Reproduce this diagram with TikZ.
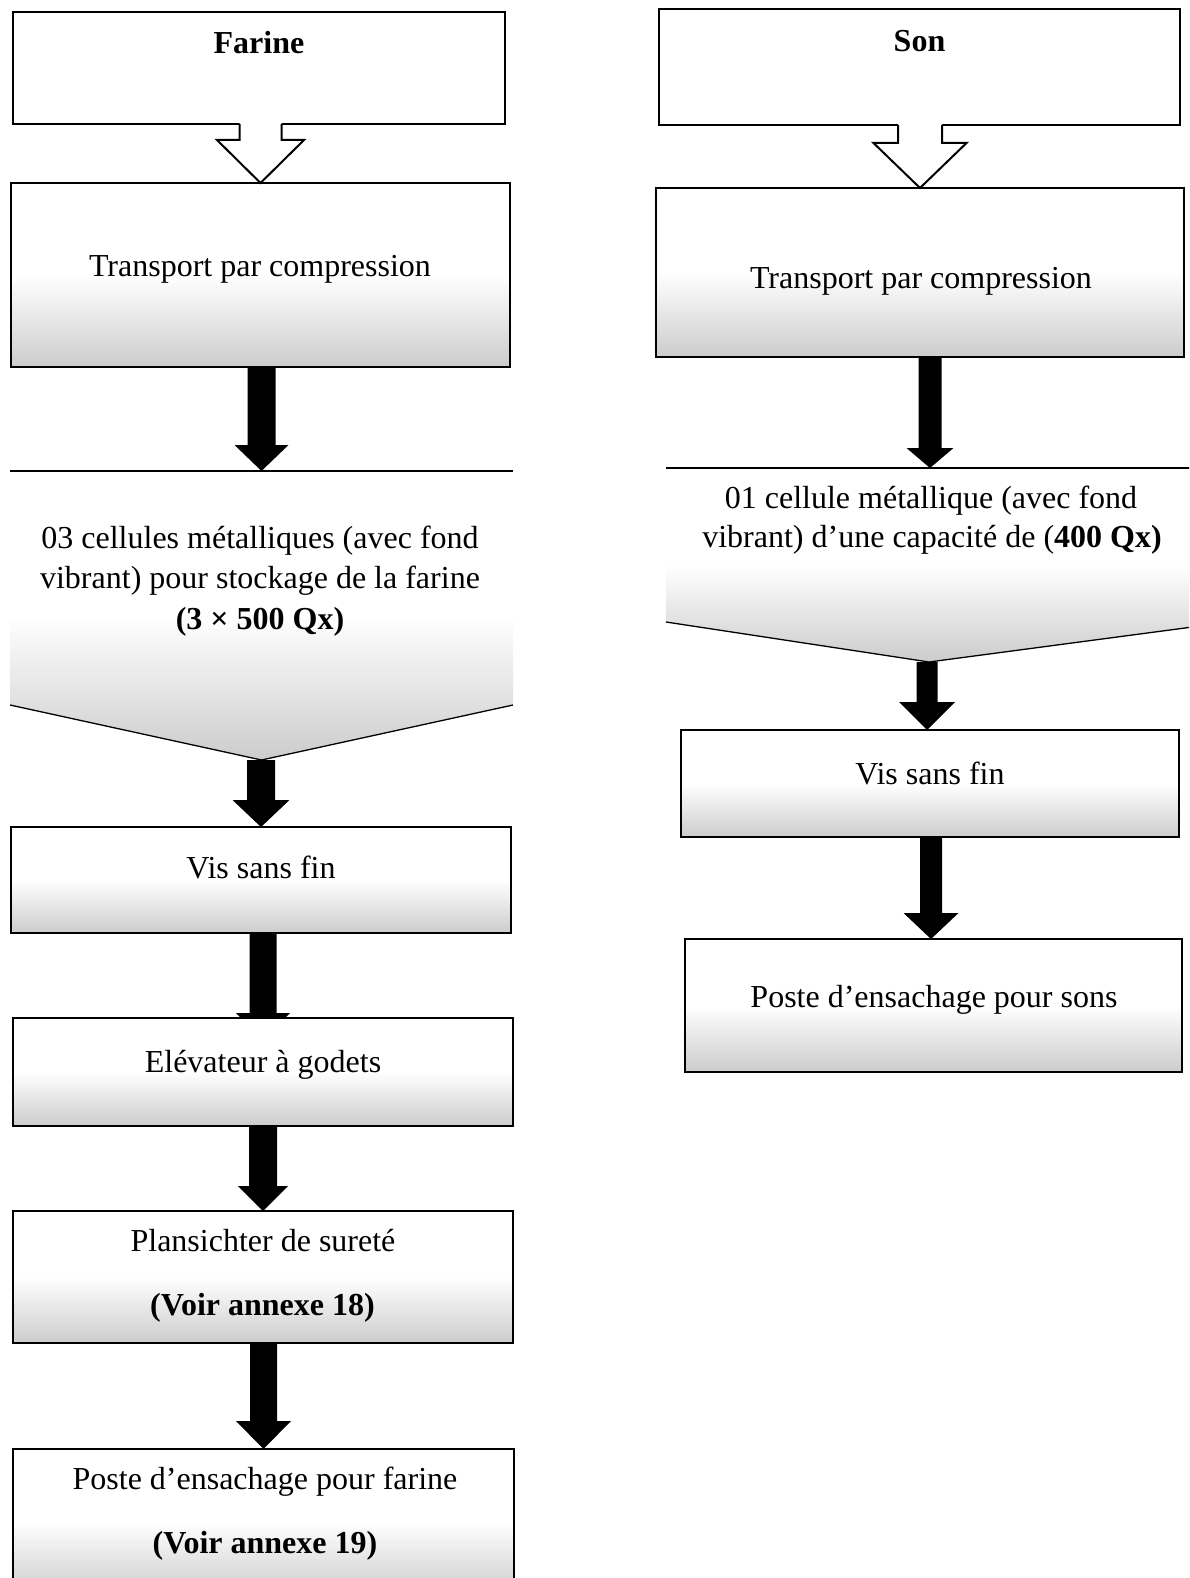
\documentclass[tikz,border=0pt]{standalone}
\usepackage{fontspec}
\setmainfont{Liberation Serif}
\usetikzlibrary{calc}
\pgfdeclarelayer{bg}
\pgfsetlayers{bg,main}

\tikzset{
  stage/.style={draw=black, line width=2pt, rectangle, inner sep=0pt, outer sep=0pt,
    top color=white, bottom color=black!20, middle color=white},
  plain/.style={draw=black, line width=2pt, rectangle, inner sep=0pt, outer sep=0pt, fill=white},
  cellbox/.style={rectangle, inner sep=0pt, outer sep=0pt},
  cellshade/.style={top color=white, bottom color=black!20, middle color=white},
  cellrim/.style={draw=black, line width=1.3pt, line join=miter},
  lbl/.style={anchor=base, inner sep=0pt, font=\fontsize{32}{38}\selectfont},
  flow/.style={fill=black},
  hollowline/.style={draw=black, line width=2pt, line join=miter},
}

% solid block arrow: #1 source anchor (start height), #2 tip, #3 shaft half width,
% #4 head half width, #5 head length
\newcommand\flowarrow[5]{%
  \path[flow] let \p1=(#1), \p2=(#2) in
    (\x2-#3pt,\y1) -- (\x2+#3pt,\y1) -- (\x2+#3pt,\y2+#5pt) -- (\x2+#4pt,\y2+#5pt)
    -- (\x2,\y2) -- (\x2-#4pt,\y2+#5pt) -- (\x2-#3pt,\y2+#5pt) -- cycle;}

% outlined block arrow, open at its top so it merges with the box above
\newcommand\hollowarrow[5]{%
  \path[fill=white] let \p1=(#1), \p2=(#2) in
    (\x2-#3pt,\y1+1.5pt) -- (\x2+#3pt,\y1+1.5pt) -- (\x2+#3pt,\y2+#5pt) -- (\x2+#4pt,\y2+#5pt)
    -- (\x2,\y2) -- (\x2-#4pt,\y2+#5pt) -- (\x2-#3pt,\y2+#5pt) -- cycle;
  \path[hollowline] let \p1=(#1), \p2=(#2) in
    (\x2-#3pt,\y1) -- (\x2-#3pt,\y2+#5pt) -- (\x2-#4pt,\y2+#5pt) -- (\x2,\y2)
    -- (\x2+#4pt,\y2+#5pt) -- (\x2+#3pt,\y2+#5pt) -- (\x2+#3pt,\y1);}

\begin{document}
\begin{tikzpicture}[x=1pt, y=-1pt]
\useasboundingbox (0,0) rectangle (1189,1578);
\clip (0,0) rectangle (1189,1578);

% ---------- Farine line ----------
\node[plain, minimum width=492pt, minimum height=112pt] (farine) at (259,68) {};
\node[stage, minimum width=499pt, minimum height=184pt] (tr1) at (260.5,275) {};
\node[cellbox, minimum width=503pt, minimum height=289pt] (cell1) at (261.5,615.5) {};
\path[cellshade] (cell1.north west) -- (cell1.north east) -- ($(cell1.south east)+(0,-55)$)
  -- (cell1.south) -- ($(cell1.south west)+(0,-55)$) -- cycle;
\draw[cellrim] (cell1.north west) -- (cell1.north east);
\draw[cellrim] ($(cell1.south west)+(0,-55)$) -- (cell1.south) -- ($(cell1.south east)+(0,-55)$);
\node[stage, minimum width=500pt, minimum height=106pt] (vis1) at (261,880) {};
\node[stage, minimum width=500pt, minimum height=108pt] (elev) at (263,1072) {};
\node[stage, minimum width=500pt, minimum height=132pt] (plans) at (263,1277) {};
\node[stage, minimum width=501pt, minimum height=146pt] (poste) at (263.5,1522) {};

% ---------- Son line ----------
\node[plain, minimum width=521pt, minimum height=116pt] (son) at (919.5,67) {};
\node[stage, minimum width=528pt, minimum height=169pt] (tr2) at (920,272.5) {};
\node[cellbox, minimum width=534pt, minimum height=194pt] (cell2) at (933,565) {};
\coordinate (cell2-tip) at ($(cell2.south)+(-4,0)$);
\path[cellshade] (cell2.north west) -- (cell2.north east) -- ($(cell2.south east)+(0,-36)$)
  -- (cell2-tip) -- ($(cell2.south west)+(0,-40)$) -- cycle;
\draw[cellrim] (cell2.north west) -- (cell2.north east);
\draw[cellrim] ($(cell2.south west)+(0,-40)$) -- (cell2-tip) -- ($(cell2.south east)+(0,-36)$);
\node[stage, minimum width=498pt, minimum height=107pt] (vis2) at (930,783.5) {};
\node[stage, minimum width=497pt, minimum height=133pt] (postes) at (933.5,1005.5) {};

% ---------- connectors ----------
\hollowarrow{farine.south}{tr1.north}{21}{43.5}{43}
\hollowarrow{son.south}{tr2.north}{22}{46.5}{45}

\begin{pgfonlayer}{bg}
  \flowarrow{tr1.south}{cell1.north}{14}{27}{26}
  \flowarrow{cell1.south}{vis1.north}{14}{28.5}{27}
  \flowarrow{vis1.south}{$(elev.north)+(0,22)$}{13.5}{27}{27}
  \flowarrow{elev.south}{plans.north}{14}{25}{25}
  \flowarrow{plans.south}{poste.north}{13.5}{27.5}{28}
  \flowarrow{tr2.south}{$(cell2.north)+(-3,0)$}{11.5}{23.5}{20}
  \flowarrow{cell2-tip}{$(vis2.north)+(-3,0)$}{10.5}{28}{28}
  \flowarrow{vis2.south}{$(postes.north)+(-2.5,0)$}{11}{27.5}{26}
\end{pgfonlayer}

% ---------- texts ----------
\node[lbl] (farine-t) at (259,54) {\textbf{Farine}};
\node[lbl] (tr1-t) at (260,277) {Transport par compression};
\node[lbl] (cell1-a) at (260,548) {03 cellules métalliques (avec fond};
\node[lbl] (cell1-b) at (260,588) {vibrant) pour stockage de la farine};
\node[lbl] (cell1-c) at (260,629) {\textbf{(3 × 500 Qx)}};
\node[lbl] (vis1-t) at (261,878) {Vis sans fin};
\node[lbl] (elev-t) at (263,1072) {Elévateur à godets};
\node[lbl] (plans-a) at (263,1251) {Plansichter de sureté};
\node[lbl] (plans-b) at (262.5,1315) {\textbf{(Voir annexe 18)}};
\node[lbl] (poste-a) at (265,1489) {Poste d’ensachage pour farine};
\node[lbl] (poste-b) at (265,1553) {\textbf{(Voir annexe 19)}};

\node[lbl] (son-t) at (919.5,52) {\textbf{Son}};
\node[lbl] (tr2-t) at (921,289) {Transport par compression};
\node[lbl] (cell2-a) at (931,508) {01 cellule métallique (avec fond};
\node[lbl] (cell2-b) at (932,547) {vibrant) d’une capacité de (\textbf{400 Qx)}};
\node[lbl] (vis2-t) at (930,784) {Vis sans fin};
\node[lbl] (postes-t) at (934,1007) {Poste d’ensachage pour sons};
\end{tikzpicture}
\end{document}
